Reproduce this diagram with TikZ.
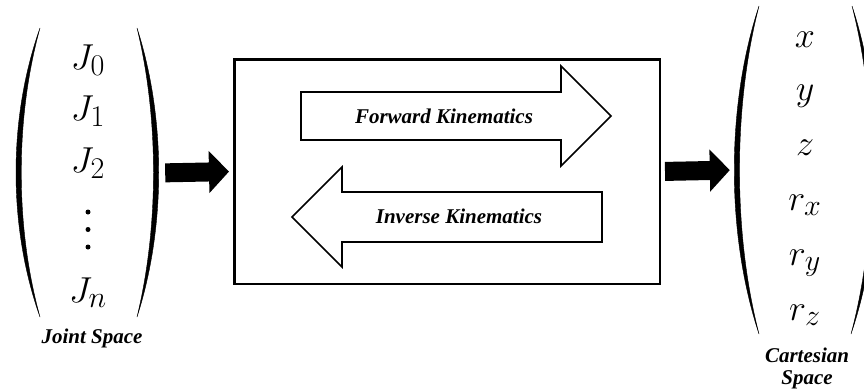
\RequirePackage{fix-cm}
\documentclass[tikz,border=0pt]{standalone}
\usepackage[no-math]{fontspec}
\usepackage{graphicx}
\newfontfamily\lblfont{Liberation Serif}
\usetikzlibrary{arrows.meta}
\newcommand{\myentry}[1]{\scalebox{1.45}{$#1$}}
\tikzset{
  entry/.style={anchor=base, inner sep=0pt, font=\fontsize{24.88}{30}\selectfont},
  lbl/.style={inner sep=0pt, font=\lblfont\bfseries\itshape\fontsize{21}{23}\selectfont, align=center},
  parenfill/.style={fill=black, draw=black, line width=0.4pt},
  hollow/.style={draw=black, line width=1.6pt, fill=white, line join=miter},
  fat/.style={line width=19pt, -{Triangle[length=20pt,width=41pt]}},
}
\begin{document}
\begin{tikzpicture}[x=1pt,y=-1pt]
\clip (0,0) rectangle (864,389);
% left matrix
\node[minimum width=140pt, minimum height=289pt, inner sep=0pt] (jmat) at (87,173) {};
\fill[parenfill] (40,28) .. controls (8,118) and (8,227) .. (40,317)
  .. controls (15,227) and (15,118) .. (40,28) -- cycle;
\fill[parenfill] (137,28) .. controls (166,118) and (166,227) .. (137,317)
  .. controls (159,227) and (159,118) .. (137,28) -- cycle;
\node[entry] (j0) at (88,69) {\myentry{J_0}};
\node[entry] (j1) at (88,120) {\myentry{J_1}};
\node[entry] (j2) at (88,172) {\myentry{J_2}};
\fill (88,212) circle (2.5);
\fill (88,229.5) circle (2.5);
\fill (88,247) circle (2.5);
\node[entry] (jn) at (88,302) {\myentry{J_n}};
\node[lbl] (jlbl) at (92,338) {Joint Space};
% right matrix
\node[minimum width=141pt, minimum height=328pt, inner sep=0pt] (cmat) at (805.5,170) {};
\fill[parenfill] (759,6) .. controls (726,106) and (726,234) .. (759,334)
  .. controls (733,234) and (733,106) .. (759,6) -- cycle;
\fill[parenfill] (852,6) .. controls (885,106) and (885,234) .. (851,334)
  .. controls (878,234) and (878,106) .. (852,6) -- cycle;
\node[entry] (cx) at (805,47) {\myentry{x}};
\node[entry] (cy) at (805,100) {\myentry{y}};
\node[entry] (cz) at (805,155) {\myentry{z}};
\node[entry] (crx) at (805,210) {\myentry{r_x}};
\node[entry] (cry) at (805,265) {\myentry{r_y}};
\node[entry] (crz) at (805,320) {\myentry{r_z}};
\node[lbl] (clbl) at (807,368) {Cartesian\\[-1pt]Space};
% central box
\node[draw, line width=2.5pt, minimum width=425.5pt, minimum height=224.5pt, inner sep=0pt] (box) at (447,171.5) {};
\draw[hollow] (301,92) -- (561,92) -- (561,66) -- (611,116) -- (561,166) -- (561,140) -- (301,140) -- cycle;
\node[lbl] (fk) at (444,116) {Forward Kinematics};
\draw[hollow] (602,192) -- (342,192) -- (342,167) -- (292,217) -- (342,267) -- (342,242) -- (602,242) -- cycle;
\node[lbl] (ik) at (459,216) {Inverse Kinematics};
% fat arrows
\draw[fat, shorten <=8pt, shorten >=4pt] (jmat.east) -- (box.west);
\draw[fat, shorten <=4pt, shorten >=5pt] (box.east) -- (cmat.west);
\end{tikzpicture}
\end{document}
